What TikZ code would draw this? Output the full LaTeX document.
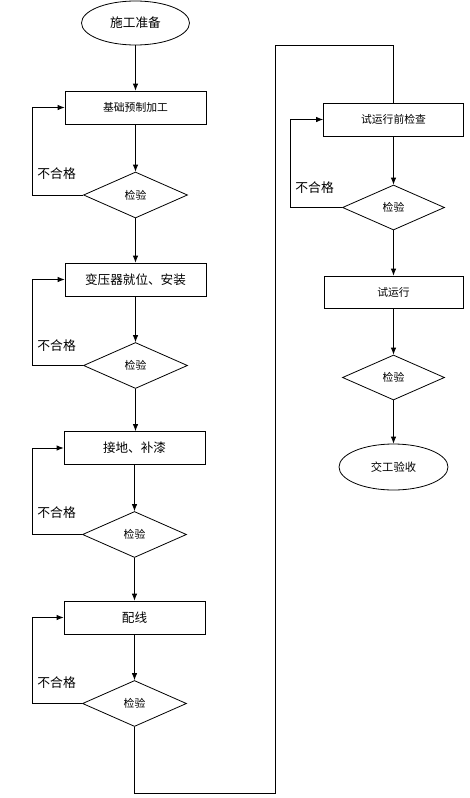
\documentclass[tikz,border=0pt]{standalone}
\usepackage{fontspec}
\setmainfont{Noto Sans CJK SC}
\usetikzlibrary{shapes.geometric,arrows.meta}
\begin{document}
\begin{tikzpicture}[x=1pt,y=-1pt,
  line width=0.8pt,
  arr/.style={-{Latex[length=7pt,width=5.5pt]}},
  procbox/.style={draw,rectangle,minimum width=141pt,minimum height=33pt,inner sep=0pt},
  chk/.style={draw,diamond,minimum width=104pt,minimum height=46pt,inner sep=0pt,font=\fontsize{10.8}{12}\selectfont},
  term/.style={draw,ellipse,minimum width=108pt,minimum height=44pt,inner sep=0pt,font=\fontsize{12.7}{14}\selectfont},
  big/.style={font=\fontsize{12.6}{14}\selectfont},
  small/.style={font=\fontsize{10.8}{12}\selectfont},
  lbl/.style={anchor=west,inner sep=0pt,font=\fontsize{12.8}{14}\selectfont}
]
\useasboundingbox (0,0) rectangle (469,798);

\node[term] (start) at (135.5,23) {施工准备};
\node[procbox,small] (b1) at (135.5,107.5) {基础预制加工};
\node[chk] (d1) at (135.5,195) {检验};
\node[procbox,big] (b2) at (135.5,279.5) {变压器就位、安装};
\node[chk] (d2) at (135.5,365.5) {检验};
\node[procbox,big] (b3) at (134.5,448) {接地、补漆};
\node[chk] (d3) at (134.5,534.5) {检验};
\node[procbox,big] (b4) at (134.5,617.5) {配线};
\node[chk] (d4) at (134.5,703.5) {检验};

\node[procbox,small,minimum width=140pt] (b5) at (393.5,119.5) {试运行前检查};
\node[chk,minimum width=102pt,minimum height=45pt] (d5) at (393.5,207.5) {检验};
\node[procbox,small,minimum width=139pt,minimum height=32pt] (b6) at (393.5,292) {试运行};
\node[chk,minimum width=102pt,minimum height=45pt] (d6) at (393.5,377.5) {检验};
\node[term,minimum width=109pt,minimum height=46pt,font=\fontsize{11.3}{13}\selectfont] (end) at (393.5,467) {交工验收};

\node[lbl] (n1) at (37,174) {不合格};
\node[lbl] (n2) at (37,346) {不合格};
\node[lbl] (n3) at (37,513) {不合格};
\node[lbl] (n4) at (37,683) {不合格};
\node[lbl] (n5) at (295,188) {不合格};

\coordinate (lx) at (32,0);
\coordinate (rx) at (290,0);
\coordinate (bot) at (275,793);
\coordinate (top) at (275,45);

\draw[arr] (start) -- (b1);
\draw[arr] (b1) -- (d1);
\draw[arr] (d1) -- (b2);
\draw[arr] (b2) -- (d2);
\draw[arr] (d2.south) -- (d2.south |- b3.north);
\draw[arr] (b3) -- (d3);
\draw[arr] (d3) -- (b4);
\draw[arr] (b4) -- (d4);

\draw[arr] (d1.west) -- (d1.west -| lx) |- (b1.west);
\draw[arr] (d2.west) -- (d2.west -| lx) |- (b2.west);
\draw[arr] (d3.west) -- (d3.west -| lx) |- (b3.west);
\draw[arr] (d4.west) -- (d4.west -| lx) |- (b4.west);
\draw[arr] (d5.west) -- (d5.west -| rx) |- (b5.west);

\draw (d4.south) |- (bot) -- (top) -| (b5.north);

\draw[arr] (b5) -- (d5);
\draw[arr] (d5) -- (b6);
\draw[arr] (b6) -- (d6);
\draw[arr] (d6) -- (end);
\end{tikzpicture}
\end{document}
